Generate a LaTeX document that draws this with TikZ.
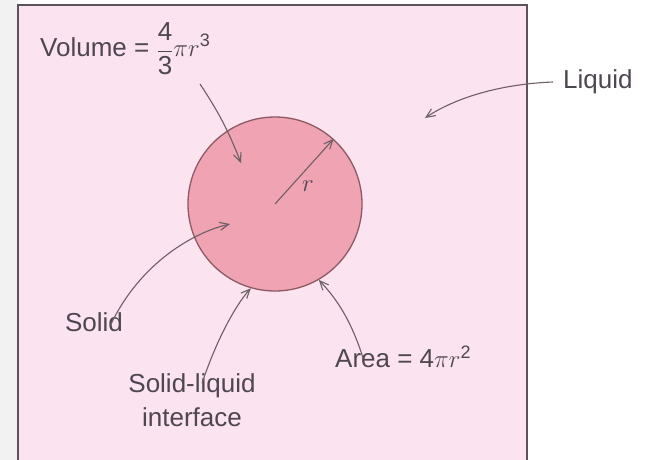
\documentclass[tikz,border=0pt]{standalone}
\usepackage{fontspec}
\setmainfont{Liberation Sans}
\usetikzlibrary{arrows.meta}
\definecolor{bgpink}{HTML}{FBE3EF}
\definecolor{solidpink}{HTML}{EFA3B3}
\definecolor{rim}{HTML}{8C5A62}
\definecolor{ink}{HTML}{4E4650}
\definecolor{arrowc}{HTML}{6E5F66}
\definecolor{frame}{HTML}{5A5458}
\begin{document}
\begin{tikzpicture}[x=1pt,y=-1pt,
  lbl/.style={text=ink, inner sep=0pt, font=\fontsize{26}{34}\selectfont},
  ptr/.style={draw=arrowc, line width=1.1pt, -{Straight Barb[length=9pt,width=8pt]}}]
\useasboundingbox (0,0) rectangle (648,460);
\fill[white] (0,0) rectangle (648,460);
\fill[gray!10] (0,0) rectangle (18,460);
\fill[bgpink] (18,5) rectangle (527,462);
\draw[frame, line width=1.3pt] (18,462) -- (18,5) -- (527,5) -- (527,462);
\node[circle, fill=solidpink, draw=rim, line width=1.3pt, minimum size=174pt, inner sep=0pt] (solid) at (275,204) {};
% labels
\node[lbl, anchor=base west] (vol) at (40,57) {Volume = $\displaystyle\frac{\mbox{4}}{\mbox{3}}\pi r^{\mbox{\fontsize{18}{18}\selectfont 3}}$};
\node[lbl, anchor=west] (liq) at (563,82) {Liquid};
\node[lbl] (sol) at (94,322) {Solid};
\node[lbl, align=center] (intf) at (192,400) {Solid-liquid\\interface};
\node[lbl, anchor=west] (area) at (335,357) {Area = 4$\pi r^{\mbox{\fontsize{18}{18}\selectfont 2}}$};
\node[text=ink, font=\fontsize{26}{26}\selectfont] (rlab) at (308,186) {$r$};
% end points
\coordinate (volend) at (241,163);
\coordinate (liqend) at (425,118);
\coordinate (solend) at (230,224);
\coordinate (volstart) at (200,84);
% connectors
\draw[ptr] (volstart) to[bend left=6] (volend);
\draw[ptr] ([xshift=-10pt]liq.west) .. controls (500,84) and (455,98) .. (liqend);
\draw[ptr] ([xshift=16pt,yshift=-14pt]sol.north) .. controls (140,262) and (195,232) .. (solend);
\draw[ptr] ([xshift=10pt,yshift=-10pt]intf.north) .. controls (220,330) and (240,300) .. (solid.254);
\draw[ptr] ([xshift=28pt,yshift=-12pt]area.north west) .. controls (348,310) and (328,290) .. (solid.300);
\draw[ptr] (solid.center) -- (solid.48);
\end{tikzpicture}
\end{document}
